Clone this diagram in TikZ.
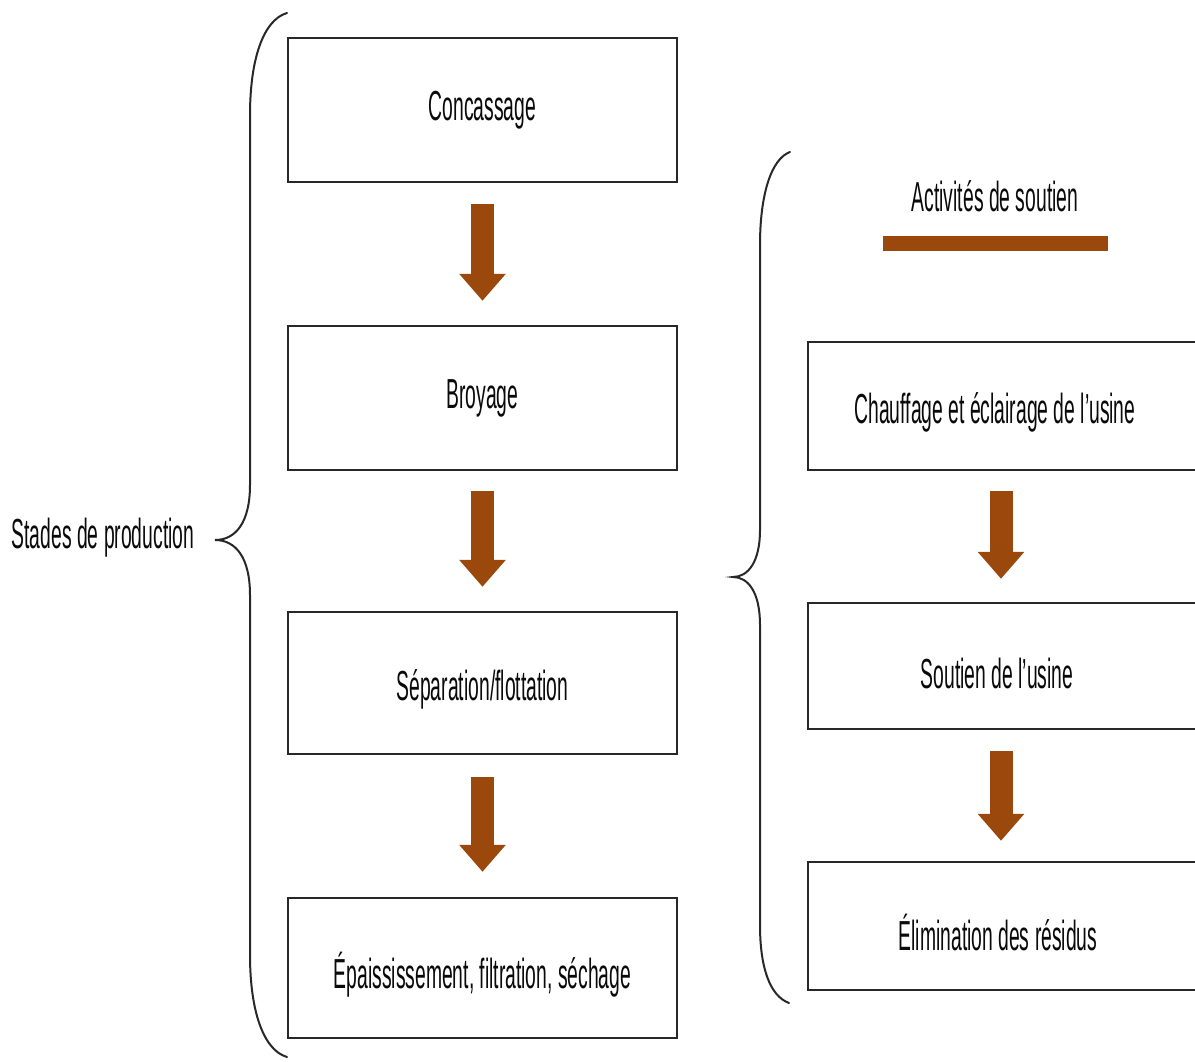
\documentclass[tikz,border=0pt]{standalone}
\usepackage{fontspec}
\setmainfont{Liberation Sans}[FakeStretch=0.46]
\usetikzlibrary{arrows.meta}
\definecolor{flowbrown}{RGB}{155,72,12}
\definecolor{inkgray}{RGB}{40,40,40}
\definecolor{textink}{RGB}{10,10,10}
\newcommand{\lowered}[2]{\raisebox{-#1}[\height][\depth]{#2}}
\begin{document}
\begin{tikzpicture}[x=1pt,y=-1pt,
  font=\fontsize{42}{48}\selectfont,
  every node/.style={text=textink},
  stagebox/.style={draw=inkgray,line width=2.4pt,fill=white,minimum width=389pt,inner sep=0pt},
  supportbox/.style={draw=inkgray,line width=2.4pt,fill=white,minimum width=422pt,inner sep=0pt},
  flowarrow/.style={draw=flowbrown,line width=23pt,
    -{Triangle[width=45pt,length=27pt,fill=flowbrown]}},
  bracestroke/.style={draw=inkgray,line width=2pt,line cap=round}]
\useasboundingbox (0,0) rectangle (1195,1062);
\clip (0,0) rectangle (1195,1062);

% production stages
\node[stagebox,minimum height=144pt] (s1) at (482.5,110) {Concassage};
\node[stagebox,minimum height=144pt] (s2) at (482.5,398) {Broyage};
\node[stagebox,minimum height=142pt] (s3) at (482.5,683) {\lowered{6pt}{Séparation/flottation}};
\node[stagebox,minimum height=140pt] (s4) at (482.5,968) {\lowered{7pt}{Épaississement, filtration, séchage}};

\draw[flowarrow,shorten <=21pt,shorten >=24pt] (s1.south) -- (s2.north);
\draw[flowarrow,shorten <=20pt,shorten >=24pt] (s2.south) -- (s3.north);
\draw[flowarrow,shorten <=22pt,shorten >=25pt] (s3.south) -- (s4.north);

% support activities (boxes run off the right edge)
\node[supportbox,minimum height=128pt] (a1) at (1019,406) {};
\node[supportbox,minimum height=126pt] (a2) at (1019,666) {};
\node[supportbox,minimum height=128pt] (a3) at (1019,926) {};
\node (t1) at (995,412) {Chauffage et éclairage de l’usine};
\node (t2) at (997,673) {Soutien de l’usine};
\node (t3) at (998,932) {Élimination des résidus};

\draw[flowarrow,shorten <=20pt,shorten >=23pt] (a1.south -| t1) ++(6,0) coordinate (a1s) -- (a2.north -| a1s);
\draw[flowarrow,shorten <=21pt,shorten >=20pt] (a2.south -| a1s) -- (a3.north -| a1s);

\node (head) at (995,196) {Activités de soutien};
\fill[flowbrown] (883,236) rectangle (1108,251);

% left label and brace
\node (lbl) at (103,538) {Stades de production};
\coordinate (lb) at (215,540);
\draw[bracestroke] (287,13) .. controls (263,20) and (250,60) .. (250,115)
  -- (250,485) .. controls (250,522) and (236,540) .. (lb)
  .. controls (236,540) and (250,558) .. (250,595)
  -- (250,955) .. controls (250,1010) and (263,1050) .. (287,1057);

% right brace
\coordinate (rb) at (733,577);
\draw[bracestroke] (790,152) .. controls (771,159) and (760,195) .. (760,245)
  -- (760,530) .. controls (760,562) and (748,577) .. (rb)
  .. controls (748,577) and (760,592) .. (760,625)
  -- (760,925) .. controls (760,968) and (770,996) .. (789,1003);
\end{tikzpicture}
\end{document}
